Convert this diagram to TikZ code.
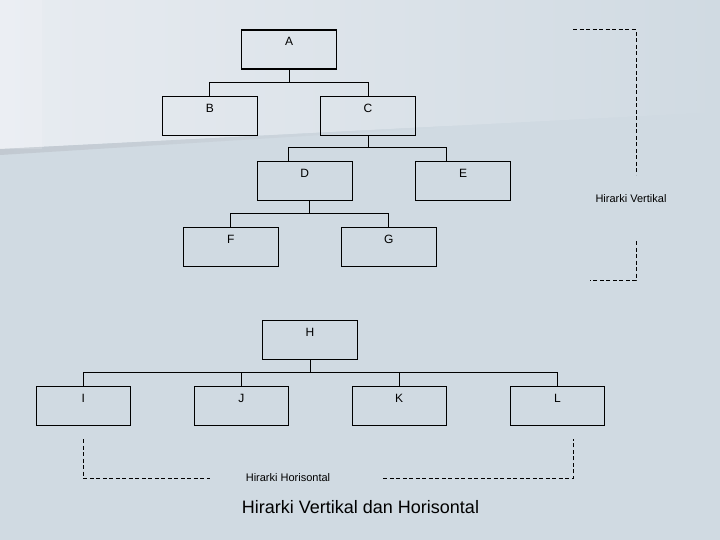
\documentclass[tikz,border=0pt]{standalone}
\usepackage{fontspec}
\setmainfont{Liberation Sans}

\definecolor{bgdark}{RGB}{208,218,226}
\definecolor{bglight}{RGB}{232,236,241}
\definecolor{swoosh}{RGB}{194,201,209}

\begin{document}
\begin{tikzpicture}[x=1pt, y=-1pt,
        box/.style={rectangle, draw, line width=1.2pt, minimum width=95pt, minimum height=39pt,
            inner ysep=7.2pt, text height=8.6pt, text depth=16pt, font=\fontsize{12}{14}\selectfont},
        link/.style={line width=1pt},
        bracket/.style={line width=1pt, dash pattern=on 4pt off 2.5pt},
        note/.style={font=\fontsize{11}{13}\selectfont}]
        % background
        \useasboundingbox (0,0) rectangle (720,540);
        \fill[bgdark] (0,0) rectangle (720,540);
        \shade[left color=bglight, right color=bgdark] (0,0) -- (720,0) -- (720,112) -- (0,149) -- cycle;
        \shade[left color=swoosh, right color=bgdark] (0,149) -- (450,126) -- (450,127) -- (0,155) -- cycle;
        \fill[white, opacity=0.15] (0,0) rectangle (42,149);

        % vertical hierarchy
        \node[box] (A) at (289, 49.5) {A};
        \node[box] (B) at (209.8, 115.8) {B};
        \node[box] (C) at (368, 115.8) {C};
        \node[box] (D) at (304.8, 180.8) {D};
        \node[box] (E) at (463, 181) {E};
        \node[box] (F) at (230.8, 247.3) {F};
        \node[box] (G) at (388.8, 247.3) {G};
        \draw[link] (A.south) -- ++(0,12.5) -| (B.north);
        \draw[link] (A.south) -- ++(0,12.5) -| (C.north);
        \draw[link] (C.south) -- ++(0,12) -| ([xshift=-16.8pt]D.north);
        \draw[link] (C.south) -- ++(0,12) -| ([xshift=-16.3pt]E.north);
        \draw[link] ([xshift=4.5pt]D.south) -- ++(0,13) -| (F.north);
        \draw[link] ([xshift=4.5pt]D.south) -- ++(0,13) -| (G.north);

        \draw[bracket] (573,30) -- (636,30) -- (636,175);
        \node[note] (vert) at (631,199) {Hirarki Vertikal};
        \draw[bracket] (636,241) -- (636,280) -- (590,280);

        % horizontal hierarchy
        \node[box] (H) at (310, 339.7) {H};
        \node[box, minimum width=94pt] (I) at (83.4, 406) {I};
        \node[box, minimum width=94pt] (J) at (241.3, 406) {J};
        \node[box, minimum width=94pt] (K) at (399.2, 406) {K};
        \node[box, minimum width=94pt] (L) at (557.4, 406) {L};
        \foreach \kid in {I,J,K,L}
            \draw[link] (H.south) -- ++(0,13) -| (\kid.north);

        \draw[bracket] (83.6,439) -- (83.6,478.3) -- (209.8,478.3);
        \node[note] (horz) at (288,478) {Hirarki Horisontal};
        \draw[bracket] (383.4,478.3) -- (573.5,478.3) -- (573.5,439);

        \node[font=\fontsize{18}{21}\selectfont] (title) at (360.5,507.5) {Hirarki Vertikal dan Horisontal};
    \end{tikzpicture}
\end{document}
